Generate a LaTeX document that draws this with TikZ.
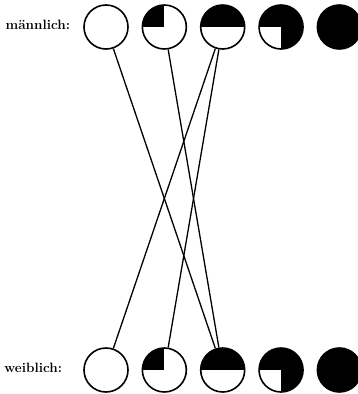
\documentclass[tikz,border=0pt]{standalone}
\usetikzlibrary{positioning}

\begin{document}
\begin{tikzpicture}[
    x=1pt,y=1pt,
    font=\fontsize{13.5}{15}\selectfont\bfseries,
    node distance=12.75pt,
    disc/.style={draw,circle,line width=1.6pt,minimum size=44pt,inner sep=0pt},
    quarter/.style={disc,path picture={\fill (path picture bounding box.center) rectangle (path picture bounding box.north west);}},
    half/.style={disc,path picture={\fill (path picture bounding box.west) rectangle (path picture bounding box.north east);}},
    threeq/.style={disc,fill=black,path picture={\fill[white] (path picture bounding box.center) rectangle (path picture bounding box.south west);}},
    full/.style={disc,fill=black},
    lab/.style={inner sep=0pt},
    link/.style={line width=1.3pt},
  ]
    \useasboundingbox (0,0) rectangle (357,-394);

    % maennlich
    \node[disc] (m1) at (106,-27) {};
    \node[quarter,right=of m1] (m2) {};
    \node[half,right=of m2] (m3) {};
    \node[threeq,right=of m3] (m4) {};
    \node[full,right=of m4] (m5) {};
    \node[lab,left=13pt of m1,yshift=2pt] (lm) {m\"annlich:};

    % weiblich
    \node[disc] (w1) at (106,-370) {};
    \node[quarter,right=of w1] (w2) {};
    \node[half,right=of w2] (w3) {};
    \node[threeq,right=of w3] (w4) {};
    \node[full,right=of w4] (w5) {};
    \node[lab,left=21pt of w1,yshift=2pt] (lw) {weiblich:};

    \draw[link] (m1) -- (w3);
    \draw[link] (m2) -- (w3);
    \draw[link] (m3) -- (w1);
    \draw[link] (m3) -- (w2);
  \end{tikzpicture}
\end{document}
